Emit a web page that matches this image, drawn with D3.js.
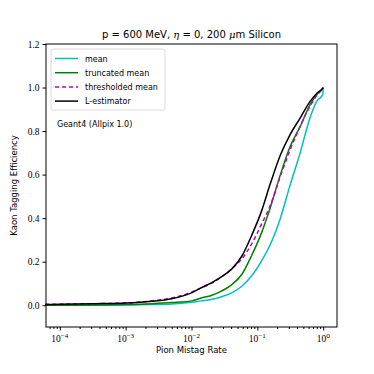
<!DOCTYPE html>
<html>
<head>
<meta charset="utf-8">
<script src="https://cdn.jsdelivr.net/npm/d3@7"></script>
<style>
  body { margin: 0; background: #fff; }
  text { fill: #000; }
  .sans { font-family: "DejaVu Sans", sans-serif; }
</style>
</head>
<body>
<svg id="chart" width="374" height="374"></svg>
<script>
// ROC curves
const mistagRate     = [6e-5, 1e-4, 3.2e-4, 1e-3, 2.5e-3, 5e-3, 0.01, 0.014, 0.02, 0.028, 0.041, 0.058, 0.081, 0.115, 0.158, 0.224, 0.316, 0.447, 0.63, 0.81, 0.95, 0.99, 1.0];
const meanEff        = [0.0, 0.0, 0.0, 0.001, 0.003, 0.006, 0.014, 0.02, 0.026, 0.038, 0.057, 0.087, 0.133, 0.202, 0.28, 0.40, 0.554, 0.70, 0.86, 0.94, 0.96, 0.97, 1.0];
const truncatedEff   = [0.0, 0.0, 0.001, 0.003, 0.007, 0.012, 0.02, 0.033, 0.045, 0.064, 0.095, 0.141, 0.225, 0.33, 0.45, 0.60, 0.73, 0.82, 0.92, 0.97, 0.99, 0.998, 1.0];
const thresholdedEff = [0.004, 0.005, 0.007, 0.01, 0.02, 0.033, 0.06, 0.08, 0.10, 0.128, 0.167, 0.213, 0.279, 0.37, 0.46, 0.593, 0.715, 0.822, 0.914, 0.965, 0.99, 0.998, 1.0];
const lEstimatorEff  = [0.003, 0.004, 0.007, 0.01, 0.018, 0.03, 0.057, 0.08, 0.103, 0.129, 0.167, 0.225, 0.317, 0.43, 0.56, 0.69, 0.785, 0.86, 0.935, 0.975, 0.992, 0.998, 1.0];

const seriesNames = ["mean", "truncated mean", "thresholded mean", "L-estimator"];
const seriesValues = [meanEff, truncatedEff, thresholdedEff, lEstimatorEff];
const seriesColors = ["#00bfbf", "#008000", "#bf00bf", "#000000"];
const seriesDash = [null, null, "4,3", null];

const yTicks = [0.0, 0.2, 0.4, 0.6, 0.8, 1.0, 1.2];
const xTickExps = [-4, -3, -2, -1, 0];

const margin = {left: 46, right: 37, top: 44, bottom: 47};
const W = 374, H = 374;

const svg = d3.select("#chart");

const x = d3.scaleLog()
    .domain([Math.pow(10, -4.21), Math.pow(10, 0.21)])
    .range([margin.left, W - margin.right]);
const y = d3.scaleLinear()
    .domain([-0.1, 1.2])
    .range([H - margin.bottom, margin.top]);

// Curves
const line = d3.line()
    .x((d, i) => x(mistagRate[i]))
    .y(d => y(d))
    .curve(d3.curveMonotoneX);

seriesValues.forEach((vals, k) => {
    svg.append("path")
        .datum(vals)
        .attr("fill", "none")
        .attr("stroke", seriesColors[k])
        .attr("stroke-width", 1.5)
        .attr("stroke-dasharray", seriesDash[k])
        .attr("d", line);
});

// Frame
svg.append("rect")
    .attr("x", margin.left).attr("y", margin.top)
    .attr("width", W - margin.left - margin.right)
    .attr("height", H - margin.top - margin.bottom)
    .attr("fill", "none").attr("stroke", "#000").attr("stroke-width", 1);

// Y axis
const yAxis = svg.append("g")
    .attr("transform", `translate(${margin.left},0)`)
    .call(d3.axisLeft(y).tickValues(yTicks).tickSize(3.5).tickPadding(3).tickFormat(d3.format(".1f")));
yAxis.select(".domain").remove();
yAxis.selectAll("text").style("font-size", "9.5px").style("font-family", "Liberation Serif, serif");

// X axis: minor ticks, then major ticks with 10^n labels
const xMinor = [];
for (let e = -5; e <= 0; e++) {
    for (let m = 2; m <= 9; m++) {
        const v = m * Math.pow(10, e);
        if (v >= x.domain()[0] && v <= x.domain()[1]) xMinor.push(v);
    }
}
svg.append("g")
    .attr("transform", `translate(0,${H - margin.bottom})`)
    .call(d3.axisBottom(x).tickValues(xMinor).tickSize(2).tickFormat(""))
    .select(".domain").remove();

const xAxis = svg.append("g")
    .attr("transform", `translate(0,${H - margin.bottom})`)
    .call(d3.axisBottom(x).tickValues(xTickExps.map(e => Math.pow(10, e))).tickSize(3.5).tickFormat(""));
xAxis.select(".domain").remove();

xTickExps.forEach(e => {
    const t = svg.append("text")
        .attr("x", x(Math.pow(10, e)))
        .attr("y", H - margin.bottom + 15)
        .attr("text-anchor", "middle")
        .style("font-family", "Liberation Serif, serif")
        .style("font-size", "9.5px");
    t.append("tspan").text("10");
    t.append("tspan").attr("dy", -4).style("font-size", "7px").text(e === 0 ? "0" : "\u2212" + (-e));
});

// Axis labels
svg.append("text")
    .attr("class", "sans")
    .attr("x", (margin.left + W - margin.right) / 2)
    .attr("y", 353)
    .attr("text-anchor", "middle")
    .style("font-size", "8.5px")
    .text("Pion Mistag Rate");

svg.append("text")
    .attr("class", "sans")
    .attr("transform", `translate(17,${(margin.top + H - margin.bottom) / 2}) rotate(-90)`)
    .attr("text-anchor", "middle")
    .style("font-size", "8.5px")
    .text("Kaon Tagging Efficiency");

// Title
const title = svg.append("text")
    .attr("class", "sans")
    .attr("x", (margin.left + W - margin.right) / 2)
    .attr("y", 38)
    .attr("text-anchor", "middle")
    .style("font-size", "10px");
title.append("tspan").text("p = 600 MeV, ");
title.append("tspan").style("font-style", "italic").style("font-family", "DejaVu Serif, serif").text("\u03b7");
title.append("tspan").text(" = 0, 200 ");
title.append("tspan").style("font-style", "italic").style("font-family", "DejaVu Serif, serif").text("\u03bc");
title.append("tspan").text("m Silicon");

// Legend
const legend = svg.append("g").attr("transform", "translate(51,49)");
legend.append("rect")
    .attr("width", 114).attr("height", 61).attr("rx", 2)
    .attr("fill", "#fff").attr("fill-opacity", 0.8)
    .attr("stroke", "#d0d0d0").attr("stroke-width", 0.8);
seriesNames.forEach((name, k) => {
    const ly = 9.5 + k * 14.2;
    legend.append("line")
        .attr("x1", 4).attr("x2", 27).attr("y1", ly).attr("y2", ly)
        .attr("stroke", seriesColors[k]).attr("stroke-width", 1.5)
        .attr("stroke-dasharray", seriesDash[k]);
    legend.append("text")
        .attr("class", "sans")
        .attr("x", 34).attr("y", ly + 3)
        .style("font-size", "8px")
        .text(name);
});

svg.append("text")
    .attr("class", "sans")
    .attr("x", 57).attr("y", 127)
    .style("font-size", "8px")
    .text("Geant4 (Allpix 1.0)");
</script>
</body>
</html>
